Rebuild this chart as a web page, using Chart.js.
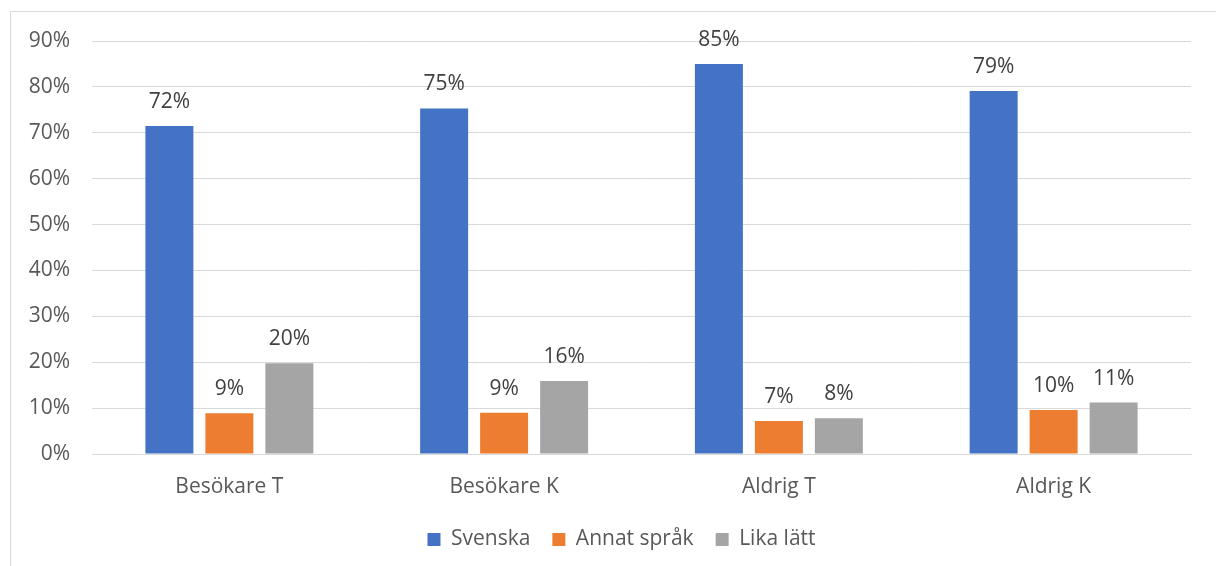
<!DOCTYPE html>
<html>
<head>
<meta charset="utf-8">
<script src="https://cdn.jsdelivr.net/npm/chart.js@4/dist/chart.umd.min.js"></script>
<style>
    body { margin: 0; background: #fff; }
    #frame { position: absolute; left: 10px; top: 11px; width: 1300px; height: 700px; border: 1px solid #d9d9d9; }
    #wrap { position: absolute; left: 0; top: 0; width: 1216px; height: 566px; }
</style>
</head>
<body>
<div id="frame"></div>
<div id="wrap"><canvas id="chart"></canvas></div>
<script>
// Data
const categories = ['Besökare T', 'Besökare K', 'Aldrig T', 'Aldrig K'];
const svenska = [71.5, 75.3, 85.0, 79.1];
const annatSprak = [8.9, 9.0, 7.2, 9.6];
const likaLatt = [19.8, 15.9, 7.8, 11.2];
const yTicks = [0, 10, 20, 30, 40, 50, 60, 70, 80, 90];

const fontFamily = '"Open Sans", Lato, sans-serif';
const fontSize = 21;

// Value labels above bars
const valueLabels = {
    id: 'valueLabels',
    afterDatasetsDraw(chart) {
        const ctx = chart.ctx;
        ctx.save();
        ctx.font = `${fontSize}px ${fontFamily}`;
        ctx.fillStyle = '#404040';
        ctx.textAlign = 'center';
        ctx.textBaseline = 'middle';
        chart.data.datasets.forEach((ds, i) => {
            chart.getDatasetMeta(i).data.forEach((bar, j) => {
                ctx.fillText(Math.round(ds.data[j]) + '%', bar.x, bar.y - 24);
            });
        });
        ctx.restore();
    }
};

// Legend sits a bit right of the canvas centre, like the frame it belongs to
const legendShift = {
    id: 'legendShift',
    afterLayout(chart) {
        chart.legend.left += 26;
        chart.legend.right += 26;
    }
};

new Chart(document.getElementById('chart').getContext('2d'), {
    type: 'bar',
    data: {
        labels: categories,
        datasets: [
            { label: 'Svenska', data: svenska, backgroundColor: '#4472C4' },
            { label: 'Annat språk', data: annatSprak, backgroundColor: '#ED7D31' },
            { label: 'Lika lätt', data: likaLatt, backgroundColor: '#A5A5A5' }
        ]
    },
    options: {
        responsive: true,
        maintainAspectRatio: false,
        animation: false,
        layout: { padding: { left: 0, right: 25, top: 41, bottom: 6 } },
        datasets: { bar: { barPercentage: 0.8, categoryPercentage: 0.655 } },
        scales: {
            x: {
                grid: { display: false, drawTicks: false },
                border: { color: '#d9d9d9' },
                ticks: { color: '#595959', font: { family: fontFamily, size: fontSize }, padding: 20 },
                afterFit: s => { s.height = 53; }
            },
            y: {
                min: 0,
                max: 90,
                afterBuildTicks: s => { s.ticks = yTicks.map(v => ({ value: v })); },
                afterFit: s => { s.width = 92; },
                grid: { color: '#d9d9d9', drawTicks: false },
                border: { display: false },
                ticks: {
                    color: '#595959',
                    font: { family: fontFamily, size: fontSize },
                    padding: 22,
                    callback: v => v + '%'
                }
            }
        },
        plugins: {
            legend: {
                position: 'bottom',
                labels: {
                    color: '#595959',
                    font: { family: fontFamily, size: fontSize },
                    boxWidth: 13,
                    boxHeight: 13,
                    padding: 22
                }
            },
            tooltip: { enabled: false }
        }
    },
    plugins: [valueLabels, legendShift]
});
</script>
</body>
</html>
